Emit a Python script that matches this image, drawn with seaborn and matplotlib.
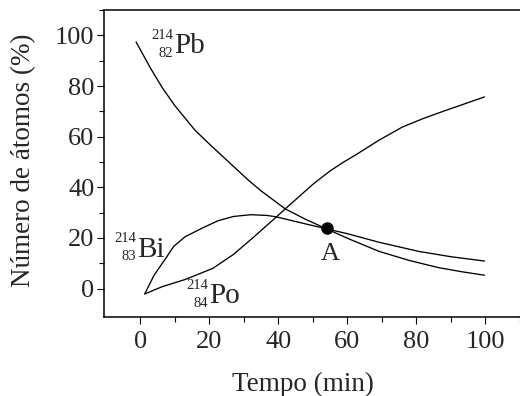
import numpy as np
import pandas as pd
import matplotlib
matplotlib.use("Agg")
import matplotlib.pyplot as plt
import seaborn as sns

# --- data ---
pb_t = [-1.2, 3.0, 6.4, 10.0, 15.9, 20.1, 25.0, 31.1, 35.0, 42.0, 48.0, 54.0,
        60.0, 69.2, 78.0, 86.4, 93.0, 99.7]
pb_pct = [97.4, 87.0, 79.3, 72.3, 62.5, 57.0, 50.8, 43.1, 38.6, 31.5, 27.3, 23.6,
          19.9, 14.7, 11.1, 8.3, 6.7, 5.3]

bi_t = [1.3, 4.0, 7.0, 9.7, 13.0, 17.8, 22.5, 27.0, 32.0, 36.8, 39.6, 45.3,
        54.0, 60.0, 69.2, 80.7, 90.0, 99.7]
bi_pct = [-2.1, 5.3, 11.2, 16.7, 20.5, 23.8, 26.8, 28.5, 29.2, 28.9, 28.3, 26.4,
          23.6, 21.7, 18.3, 14.7, 12.6, 10.9]

po_t = [1.3, 6.4, 13.0, 17.0, 21.0, 27.0, 33.4, 39.1, 42.0, 50.0, 55.0, 58.8,
        62.4, 69.0, 75.9, 82.0, 88.3, 94.0, 99.7]
po_pct = [-2.1, 0.8, 3.6, 5.8, 8.0, 13.5, 21.0, 27.9, 31.5, 41.2, 46.5, 49.9,
          52.8, 58.5, 63.8, 67.2, 70.3, 73.0, 75.7]

point_a = (54.1, 24.0)

x_ticks = [0, 20, 40, 60, 80, 100]
y_ticks = [0, 20, 40, 60, 80, 100]

df = pd.concat([
    pd.DataFrame({"t": pb_t, "pct": pb_pct, "iso": "Pb"}),
    pd.DataFrame({"t": bi_t, "pct": bi_pct, "iso": "Bi"}),
    pd.DataFrame({"t": po_t, "pct": po_pct, "iso": "Po"}),
])

sns.set_style("ticks")
plt.rcParams["font.family"] = ["Liberation Serif", "DejaVu Serif"]

fig = plt.figure(figsize=(5.2, 3.96), dpi=100)
ax = fig.add_axes([0.2, 0.1995, 0.8, 0.775])

sns.lineplot(data=df, x="t", y="pct", hue="iso", palette=["black"] * 3,
             linewidth=0.95, legend=False, ax=ax)
ax.plot(*point_a, "o", color="black", markersize=8)
ax.text(55.0, 11.5, "A", ha="center", va="baseline", fontsize=19)


def isotope(x, y, mass, z, sym):
    # element symbol with mass number / atomic number stacked on its left
    ax.text(x, y, sym, ha="left", va="baseline", fontsize=21)
    ax.annotate(mass, (x, y), xytext=(-0.5, 10.5), textcoords="offset points",
                ha="right", va="baseline", fontsize=10.5)
    ax.annotate(z, (x, y), xytext=(-0.5, -2.5), textcoords="offset points",
                ha="right", va="baseline", fontsize=10.5)


isotope(9.7, 93.0, "214", "82", "Pb")
isotope(-0.9, 12.5, "214", "83", "Bi")
isotope(19.9, -5.8, "214", "84", "Po")

ax.set_xlim(-10.5, 108)
ax.set_ylim(-11.2, 107.8)
ax.set_xticks(x_ticks)
ax.set_yticks(y_ticks)
ax.set_xticks([v + 10 for v in x_ticks], minor=True)
ax.set_yticks([v + 10 for v in y_ticks], minor=True)
ax.tick_params(which="major", direction="out", length=5, width=0.8,
               labelsize=19, color="black")
ax.tick_params(which="minor", direction="out", length=3.5, width=0.8, color="black")
ax.tick_params(axis="x", pad=5)
ax.tick_params(axis="y", pad=2)

ax.spines["right"].set_visible(False)
for s in ["left", "bottom", "top"]:
    ax.spines[s].set_linewidth(1.1)
    ax.spines[s].set_color("black")

ax.set_xlabel("Tempo (min)", fontsize=19.5)
ax.set_ylabel("Número de átomos (%)", fontsize=19.5)
ax.xaxis.set_label_coords(0.478, -0.178)
ax.yaxis.set_label_coords(-0.162, 0.51)

fig.savefig("out.png", dpi=100)
